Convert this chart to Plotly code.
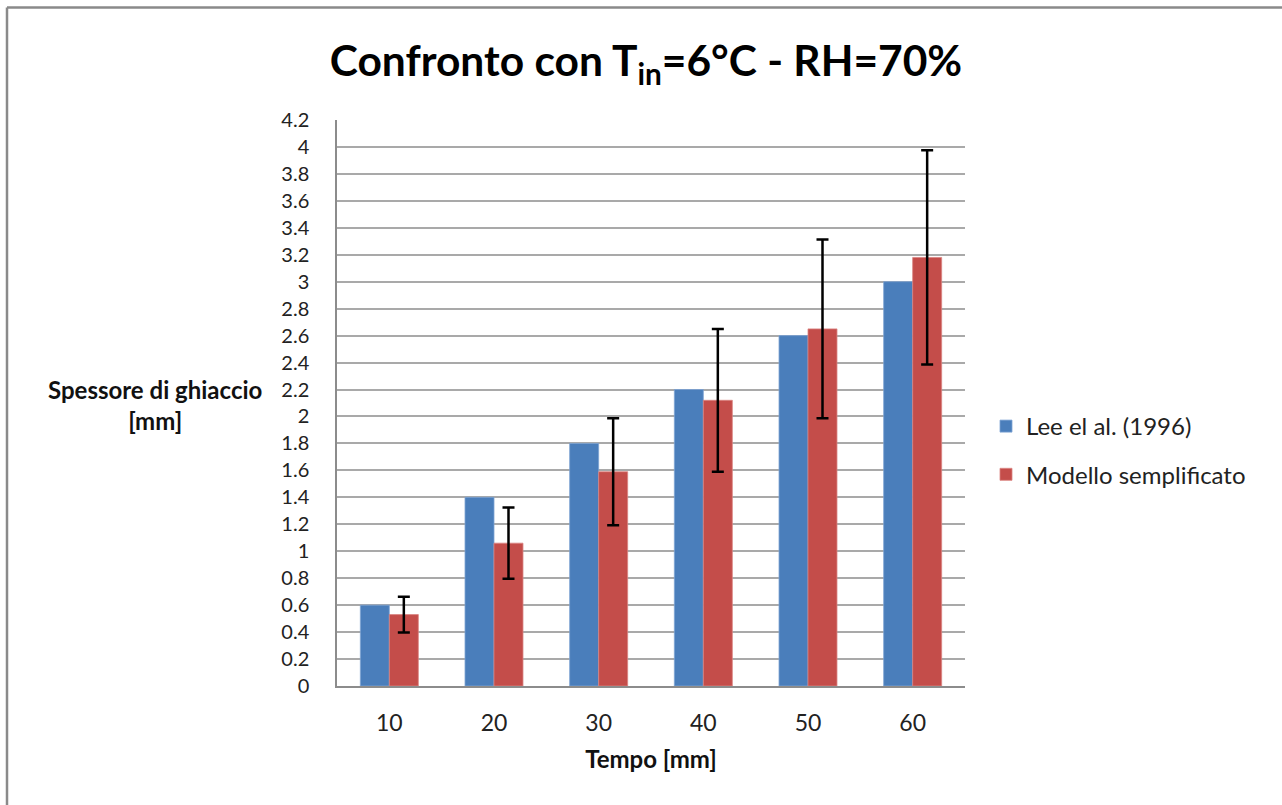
import plotly.graph_objects as go

# Ice thickness over time: measured data vs. simplified model
tempo = ["10", "20", "30", "40", "50", "60"]
lee_1996 = [0.6, 1.4, 1.8, 2.2, 2.6, 3.0]
modello = [0.53, 1.06, 1.59, 2.12, 2.65, 3.18]
errore_pct = 25  # percent error shown on the model bars

y_ticks = [round(i * 0.2, 1) for i in range(22)]
y_labels = [("%g" % v) for v in y_ticks]

FONT = "Lato"
BLUE = "#4A7EBB"
RED = "#C44D4A"

fig = go.Figure()
fig.add_trace(go.Bar(
    x=tempo, y=lee_1996, name="Lee el al. (1996)",
    marker=dict(color=BLUE, line=dict(color="#7EA3D3", width=0.8)),
    legendgroup="a",
))
fig.add_trace(go.Bar(
    x=tempo, y=modello, name="Modello semplificato",
    marker=dict(color=RED, line=dict(color="#DA8482", width=0.8)),
    error_y=dict(type="percent", value=errore_pct, color="black",
                 thickness=2.5, width=6),
    legendgroup="b",
))

fig.update_layout(
    width=1282, height=805,
    margin=dict(l=337, r=317, t=120, b=119),
    paper_bgcolor="white", plot_bgcolor="white",
    barmode="group", bargap=0.446, bargroupgap=0,
    font=dict(family=FONT, color="#1a1a1a"),
    title=dict(
        text="<b>Confronto con T<sub>in</sub>=6°C - RH=70%</b>",
        font=dict(family=FONT, size=42.5, color="black"),
        x=(646 - 337) / 628, xref="paper", xanchor="center",
        y=1 - 61 / 805, yref="container", yanchor="middle",
    ),
    xaxis=dict(
        type="category", showgrid=False, ticks="",
        showline=True, linecolor="#8c8c8c", linewidth=1.5,
        tickfont=dict(size=23, color="#222"),
        ticklabelstandoff=16,
        title=dict(text="<b>Tempo [mm]</b>", font=dict(size=24, color="#111"),
                   standoff=16),
    ),
    yaxis=dict(
        range=[0, 4.2], tickvals=y_ticks, ticktext=y_labels,
        showgrid=True, gridcolor="#a9a9a9", gridwidth=1.5,
        showline=True, linecolor="#8c8c8c", linewidth=1.5,
        zeroline=False, ticks="",
        tickfont=dict(size=20, color="#222"),
        ticklabelstandoff=22,
    ),
    legend=dict(
        x=(986 - 337) / 628, y=(686.5 - 451) / 566,
        xanchor="left", yanchor="middle",
        font=dict(size=24, color="#222"),
        tracegroupgap=14, bgcolor="rgba(0,0,0,0)",
    ),
    showlegend=True,
)

# Y-axis title, written horizontally on two lines
fig.add_annotation(
    text="<b>Spessore di ghiaccio<br>[mm]</b>",
    xref="paper", yref="paper",
    x=(155 - 337) / 628, y=(686.5 - 405) / 566,
    xanchor="center", yanchor="middle",
    showarrow=False, align="center",
    font=dict(family=FONT, size=24, color="#111"),
)

# Outer chart frame (top and left edges)
fx0 = (7 - 337) / 628
fy0 = (686.5 - 8) / 566
fig.add_shape(type="line", xref="paper", yref="paper",
              x0=fx0, y0=fy0, x1=(1300 - 337) / 628, y1=fy0,
              line=dict(color="#8a8a8a", width=2.5))
fig.add_shape(type="line", xref="paper", yref="paper",
              x0=fx0, y0=fy0, x1=fx0, y1=(686.5 - 820) / 566,
              line=dict(color="#8a8a8a", width=2.5))

fig.write_html("out.html")
